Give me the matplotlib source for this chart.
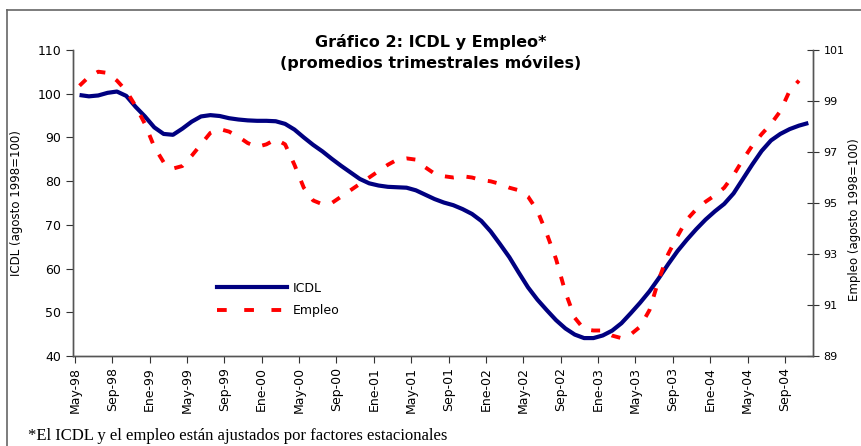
import numpy as np
import matplotlib.pyplot as plt
from matplotlib.lines import Line2D

# --- Data (monthly, May-98 .. Nov-04) ---
icdl = [99.7, 99.4, 99.6, 100.2, 100.5, 99.5, 97.0, 94.8, 92.3, 90.8,
        90.6, 92.0, 93.6, 94.8, 95.1, 94.9, 94.4, 94.1, 93.9, 93.8,
        93.8, 93.7, 93.1, 91.8, 90.0, 88.3, 86.8, 85.1, 83.5, 82.0,
        80.5, 79.5, 79.0, 78.7, 78.6, 78.5, 77.9, 76.9, 75.9, 75.1,
        74.5, 73.6, 72.5, 70.9, 68.5, 65.6, 62.6, 59.1, 55.7, 52.9,
        50.5, 48.2, 46.3, 44.9, 44.1, 44.1, 44.7, 45.8, 47.5, 49.8,
        52.2, 54.8, 57.8, 61.0, 64.0, 66.6, 69.0, 71.2, 73.1, 74.8,
        77.2, 80.5, 83.8, 86.9, 89.3, 90.8, 91.9, 92.7, 93.3]

empleo = [99.6, 99.95, 100.15, 100.1, 99.8, 99.4, 98.8, 98.1, 97.2, 96.6,
          96.35, 96.45, 96.85, 97.3, 97.75, 97.9, 97.8, 97.6, 97.35, 97.2,
          97.3, 97.5, 97.3, 96.5, 95.6, 95.1, 94.95, 95.0, 95.25, 95.5,
          95.75, 96.0, 96.25, 96.5, 96.7, 96.75, 96.7, 96.4, 96.15, 96.05,
          96.0, 96.05, 96.0, 95.9, 95.85, 95.75, 95.6, 95.5, 95.25, 94.7,
          93.8, 92.8, 91.5, 90.5, 90.05, 90.0, 90.0, 89.8, 89.7, 89.85,
          90.15, 90.8, 92.0, 93.0, 93.7, 94.35, 94.75, 95.05, 95.3, 95.6,
          96.1, 96.7, 97.25, 97.7, 98.1, 98.6, 99.4, 99.8, np.nan]

tick_labels = ['May-98', 'Sep-98', 'Ene-99', 'May-99', 'Sep-99', 'Ene-00',
               'May-00', 'Sep-00', 'Ene-01', 'May-01', 'Sep-01', 'Ene-02',
               'May-02', 'Sep-02', 'Ene-03', 'May-03', 'Sep-03', 'Ene-04',
               'May-04', 'Sep-04']

x = np.arange(len(icdl)) + 0.5
ticks = np.arange(len(tick_labels)) * 4

fig = plt.figure(figsize=(8.62, 4.46), dpi=100)
ax = fig.add_axes([73/862, 1 - 356/446, 740/862, 306/446])
ax2 = ax.twinx()

ax.plot(x, icdl, color='#000080', lw=3.0, solid_capstyle='butt', zorder=3)
ax2.plot(x, empleo, color='#ff0000', lw=2.8, linestyle=(0, (2.3, 3.3)))

spine_c = '#555555'
ax.set_xlim(-0.2, 79)
ax.set_ylim(40, 110)
ax.set_yticks(range(40, 111, 10))
ax.set_xticks(ticks)
ax.set_xticklabels(tick_labels, rotation=90, fontsize=9)
ax.tick_params(axis='y', labelsize=9, direction='out', length=5, color='#333333')
ax.tick_params(axis='x', direction='out', length=5, color='#333333', pad=3)
ax.set_ylabel('ICDL (agosto 1998=100)', fontsize=8.5, labelpad=10)

ax2.set_ylim(89, 101)
ax2.set_yticks(range(89, 102, 2))
ax2.tick_params(axis='y', labelsize=8, direction='inout', length=8, color='#333333')

for a in (ax, ax2):
    a.spines['top'].set_visible(False)
    for s in ('left', 'right', 'bottom'):
        a.spines[s].set_color(spine_c)
        a.spines[s].set_linewidth(1.0)

# legend
handles = [Line2D([], [], color='#000080', lw=3.0),
           Line2D([], [], color='#ff0000', lw=2.8, linestyle=(0, (2.5, 4.5)))]
ax.legend(handles, ['ICDL', 'Empleo'], frameon=False, fontsize=9,
          loc='upper left', bbox_to_anchor=(0.18, 0.28), handlelength=5.6,
          handletextpad=0.4, labelspacing=0.75)

# titles and labels
fig.text(0.5, 1 - 42/446, 'Gráfico 2: ICDL y Empleo*', ha='center', va='center',
         fontsize=11.5, fontweight='bold')
fig.text(0.5, 1 - 63/446, '(promedios trimestrales móviles)', ha='center', va='center',
         fontsize=11.5, fontweight='bold')
fig.text(855/862, 1 - 220/446, 'Empleo (agosto 1998=100)', rotation=90,
         ha='center', va='center', fontsize=8.5)
fig.text(28/862, 1 - 436/446, '*El ICDL y el empleo están ajustados por factores estacionales',
         ha='left', va='center', fontsize=12, family='Liberation Serif')

# chart border (top and left edges visible)
fig.add_artist(Line2D([7/862, 7/862], [0, 1 - 10/446], color='#666666', lw=1.2,
                      transform=fig.transFigure))
fig.add_artist(Line2D([7/862, 1], [1 - 10/446, 1 - 10/446], color='#666666', lw=1.2,
                      transform=fig.transFigure))

fig.savefig('out.png', dpi=100)
